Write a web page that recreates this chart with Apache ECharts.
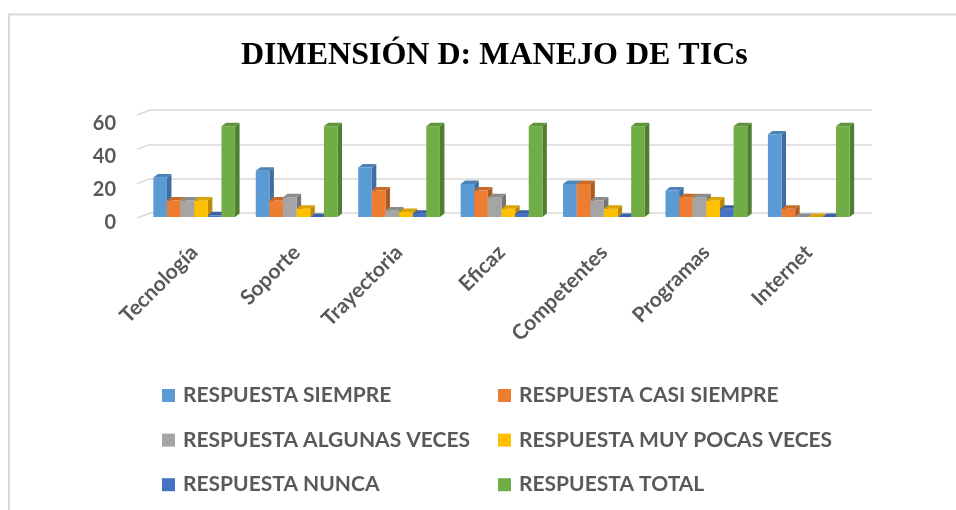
<!DOCTYPE html>
<html>
<head>
<meta charset="utf-8">
<script src="https://cdn.jsdelivr.net/npm/echarts@6/dist/echarts.min.js"></script>
<style>
	html, body {margin: 0; padding: 0; background: #fff;}
	#chart {width: 956px; height: 510px;}
</style>
</head>
<body>
<div id="chart"></div>
<script>
let categories = ['Tecnología', 'Soporte', 'Trayectoria', 'Eficaz', 'Competentes', 'Programas', 'Internet'];
let siempre = [24, 28, 30, 20, 20, 16, 50];
let casiSiempre = [10, 10, 16, 16, 20, 12, 5];
let algunasVeces = [10, 12, 4, 12, 10, 12, 0];
let muyPocasVeces = [10, 5, 3, 5, 5, 10, 0];
let nunca = [1, 0, 2, 2, 0, 5, 0];
let total = [55, 55, 55, 55, 55, 55, 55];
let yTicks = [0, 20, 40, 60];

let seriesNames = [
	'RESPUESTA SIEMPRE',
	'RESPUESTA CASI SIEMPRE',
	'RESPUESTA ALGUNAS VECES',
	'RESPUESTA MUY POCAS VECES',
	'RESPUESTA NUNCA',
	'RESPUESTA TOTAL',
];
let seriesValues = [siempre, casiSiempre, algunasVeces, muyPocasVeces, nunca, total];
// front, side, top
let palette = [
	['#5B9BD5', '#3E6F9E', '#4C84B8'],
	['#ED7D31', '#AD5920', '#C9692A'],
	['#A5A5A5', '#767676', '#8C8C8C'],
	['#FFC000', '#BA8B00', '#D9A300'],
	['#4472C4', '#2E518E', '#3A61A7'],
	['#70AD47', '#4F7E31', '#5F933C'],
];

let depthX = 4.5;
let depthY = 3.5;
let shiftY = -6;

let barSeries = seriesValues.map((values, i) => ({
	type: 'custom',
	name: seriesNames[i],
	xAxisIndex: 0,
	yAxisIndex: 0,
	itemStyle: {color: palette[i][0]},
	data: values.map((v, k) => [k, v]),
	renderItem: (params, api) => {
		let base = api.coord([api.value(0), 0]);
		let top = api.coord([api.value(0), api.value(1)]);
		let band = api.size([1, 0])[0];
		let w = band * 0.133;
		let x0 = base[0] + (i - 3) * w;
		let x1 = x0 + w;
		let yb = base[1] + shiftY;
		let yt = top[1] + shiftY;
		let [front, side, cap] = palette[i];
		return {
			type: 'group',
			children: [
				{
					type: 'polygon',
					shape: {points: [[x1, yt], [x1 + depthX, yt - depthY], [x1 + depthX, yb - depthY], [x1, yb]]},
					style: {fill: side},
				},
				{
					type: 'rect',
					shape: {x: x0, y: yt, width: w, height: yb - yt},
					style: {fill: front},
				},
				{
					type: 'polygon',
					shape: {points: [[x0, yt], [x0 + depthX, yt - depthY], [x1 + depthX, yt - depthY], [x1, yt]]},
					style: {fill: cap},
				},
			],
		};
	},
}));

let slantSeries = {
	type: 'custom',
	xAxisIndex: 1,
	yAxisIndex: 1,
	silent: true,
	data: yTicks.map((v) => [0, v]),
	renderItem: (params, api) => {
		let y = api.coord([0, api.value(1)])[1];
		let x = params.coordSys.x;
		return {
			type: 'line',
			shape: {x1: x, y1: y, x2: x - 13, y2: y + 5},
			style: {stroke: '#d9d9d9', lineWidth: 1.5},
		};
	},
};

let legendText = {
	fontFamily: 'Lato',
	fontWeight: 'bold',
	fontSize: 21,
	color: '#595959',
	lineHeight: 22,
	padding: [3, 0, 0, 3],
};

let chart = echarts.init(document.getElementById('chart'));
chart.setOption({
	backgroundColor: '#fff',
	animation: false,
	title: {
		text: 'DIMENSIÓN D: MANEJO DE TICs',
		left: 236,
		top: 35,
		textStyle: {
			fontFamily: 'Liberation Serif',
			fontWeight: 'bold',
			fontSize: 32,
			color: '#000',
		},
	},
	graphic: [{
		type: 'polyline',
		shape: {points: [[9, 510], [9, 14.5], [956, 14.5]]},
		style: {stroke: '#d9d9d9', lineWidth: 2, fill: null},
	}],
	legend: [
		{
			orient: 'vertical',
			left: 162,
			top: 383,
			padding: 0,
			itemWidth: 13,
			itemHeight: 13,
			itemGap: 19.6,
			icon: 'rect',
			data: [seriesNames[0], seriesNames[2], seriesNames[4]],
			textStyle: legendText,
		},
		{
			orient: 'vertical',
			left: 498,
			top: 383,
			padding: 0,
			itemWidth: 13,
			itemHeight: 13,
			itemGap: 19.6,
			icon: 'rect',
			data: [seriesNames[1], seriesNames[3], seriesNames[5]],
			textStyle: legendText,
		},
	],
	grid: [
		{left: 143, right: 96, top: 124, bottom: 287},
		{left: 150, right: 84, top: 110, bottom: 297},
	],
	xAxis: [
		{
			type: 'category',
			gridIndex: 0,
			data: categories,
			axisLine: {show: false},
			axisTick: {show: false},
			axisLabel: {
				rotate: 45,
				margin: 26,
				fontFamily: 'Lato',
				fontWeight: 'bold',
				fontSize: 21,
				color: '#595959',
			},
		},
		{
			type: 'category',
			gridIndex: 1,
			data: categories,
			show: false,
		},
	],
	yAxis: [
		{
			type: 'value',
			gridIndex: 0,
			min: 0,
			max: 60,
			interval: 20,
			splitLine: {show: false},
			axisLine: {show: false},
			axisTick: {show: false},
			axisLabel: {
				margin: 27,
				fontFamily: 'Lato',
				fontWeight: 'bold',
				fontSize: 20,
				color: '#595959',
			},
		},
		{
			type: 'value',
			gridIndex: 1,
			min: 0,
			max: 60,
			interval: 20,
			axisLine: {show: false},
			axisTick: {show: false},
			axisLabel: {show: false},
			splitLine: {lineStyle: {color: '#d9d9d9', width: 1.5}},
		},
	],
	series: [slantSeries, ...barSeries],
});
</script>
</body>
</html>
